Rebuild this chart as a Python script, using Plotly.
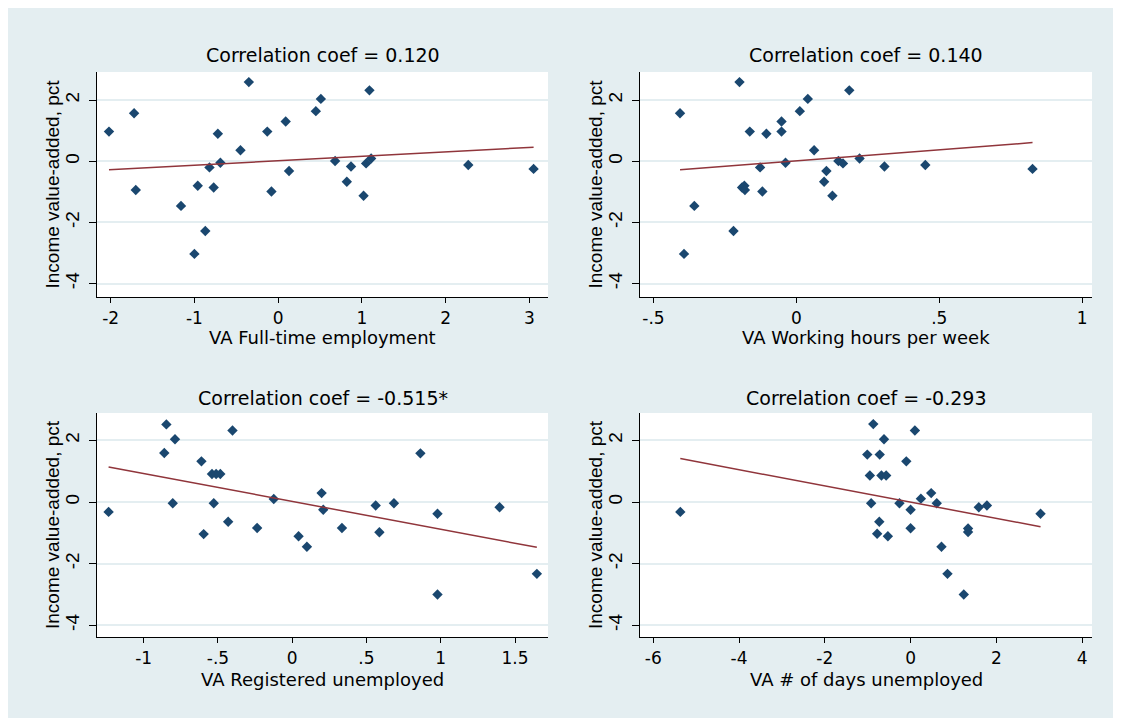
import plotly.graph_objects as go

# ---------------- data ----------------
titles = ["Correlation coef = 0.120", "Correlation coef = 0.140",
          "Correlation coef = -0.515*", "Correlation coef = -0.293"]
x_titles = ["VA Full-time employment", "VA Working hours per week",
            "VA Registered unemployed", "VA # of days unemployed"]
y_title = "Income value-added, pct"

fte_x = [-2.02, -1.72, -1.70, -1.16, -1.00, -0.96, -0.87, -0.82, -0.77, -0.72, -0.69, -0.45, -0.35, -0.13,
         -0.08, 0.09, 0.13, 0.45, 0.51, 0.68, 0.82, 0.87, 1.02, 1.05, 1.09, 1.11, 2.27, 3.05]
fte_y = [0.97, 1.57, -0.94, -1.46, -3.03, -0.80, -2.28, -0.20, -0.86, 0.90, -0.05, 0.36, 2.59, 0.97,
         -0.99, 1.30, -0.32, 1.64, 2.04, 0.01, -0.67, -0.17, -1.13, -0.07, 2.32, 0.09, -0.12, -0.25]

hrs_x = [-0.407, -0.393, -0.357, -0.220, -0.199, -0.190, -0.182, -0.180, -0.163, -0.127, -0.119, -0.105,
         -0.052, -0.052, -0.038, 0.012, 0.040, 0.062, 0.097, 0.105, 0.126, 0.147, 0.163, 0.185, 0.221,
         0.308, 0.451, 0.826]
hrs_y = [1.57, -3.03, -1.46, -2.28, 2.59, -0.86, -0.80, -0.94, 0.97, -0.20, -0.99, 0.90,
         1.30, 0.97, -0.05, 1.64, 2.04, 0.36, -0.67, -0.32, -1.13, 0.01, -0.07, 2.32, 0.09,
         -0.17, -0.12, -0.25]

reg_x = [-1.236, -0.861, -0.847, -0.804, -0.789, -0.611, -0.596, -0.540, -0.512, -0.484, -0.528, -0.431,
         -0.402, -0.236, -0.124, 0.043, 0.099, 0.198, 0.209, 0.335, 0.562, 0.587, 0.685, 0.863, 0.978,
         0.978, 1.396, 1.647]
reg_y = [-0.32, 1.59, 2.52, -0.04, 2.04, 1.32, -1.04, 0.91, 0.91, 0.91, -0.04, -0.64,
         2.32, -0.84, 0.10, -1.11, -1.45, 0.29, -0.25, -0.84, -0.11, -0.98, -0.04, 1.58, -0.38,
         -3.00, -0.17, -2.33]

days_x = [-5.37, -1.01, -0.95, -0.92, -0.87, -0.78, -0.73, -0.72, -0.68, -0.57, -0.62, -0.53, -0.26,
          -0.10, 0.00, 0.00, 0.10, 0.24, 0.48, 0.61, 0.72, 0.86, 1.24, 1.34, 1.34, 1.59, 1.78, 3.03]
days_y = [-0.32, 1.54, 0.86, -0.04, 2.53, -1.03, -0.64, 1.54, 0.86, 0.86, 2.04, -1.11, -0.04,
          1.32, -0.25, -0.85, 2.32, 0.11, 0.29, -0.04, -1.45, -2.33, -3.00, -0.86, -0.97, -0.17, -0.11, -0.38]

# fitted lines (endpoints)
fit_x = [[-2.02, 3.05], [-0.407, 0.826], [-1.236, 1.647], [-5.37, 3.03]]
fit_y = [[-0.28, 0.46], [-0.28, 0.61], [1.14, -1.47], [1.41, -0.80]]

x_tickvals = [[-2, -1, 0, 1, 2, 3], [-0.5, 0, 0.5, 1], [-1, -0.5, 0, 0.5, 1, 1.5], [-6, -4, -2, 0, 2, 4]]
x_ticktext = [["-2", "-1", "0", "1", "2", "3"], ["-.5", "0", ".5", "1"],
              ["-1", "-.5", "0", ".5", "1", "1.5"], ["-6", "-4", "-2", "0", "2", "4"]]
y_tickvals = [-4, -2, 0, 2]
y_ticktext = ["-4", "-2", "0", "2"]

xs = [fte_x, hrs_x, reg_x, days_x]
ys = [fte_y, hrs_y, reg_y, days_y]

# ---------------- layout constants ----------------
OFF = 8                     # page body margin
W, H = 1121 - OFF, 718 - OFF
x_ranges = [[-2.163, 3.222], [-0.547, 1.034], [-1.314, 1.722], [-6.31, 4.23]]
y_ranges = [[-4.44, 2.92], [-4.44, 2.92], [-4.38, 2.89], [-4.38, 2.89]]
# plot-area pixel boxes in screen pixels: (left, right, top, bottom)
boxes = [(97, 548, 72, 297), (640, 1092, 72, 297), (97, 548, 413, 637), (640, 1092, 413, 637)]
title_y = [55, 55, 398, 398]
xtitle_y = [337, 337, 679, 679]


def px(v):
    return (v - OFF) / W


def py(v):
    return 1 - (v - OFF) / H


BG = "#e4eef1"
NAVY = "#1a476f"
MAROON = "#90353b"
HFONT = "DejaVu Sans"
VFONT = "Liberation Sans"

fig = go.Figure()
layout = dict(
    width=W, height=H,
    margin=dict(l=0, r=0, t=0, b=0),
    paper_bgcolor=BG, plot_bgcolor="white",
    showlegend=False,
    annotations=[],
)

for i in range(4):
    l, r, t, b = boxes[i]
    sfx = "" if i == 0 else str(i + 1)
    xa, ya = "x" + sfx, "y" + sfx
    fig.add_trace(go.Scatter(
        x=xs[i], y=ys[i], mode="markers", xaxis=xa, yaxis=ya,
        marker=dict(symbol="diamond", size=8, color=NAVY, line=dict(width=0)),
    ))
    fig.add_trace(go.Scatter(
        x=fit_x[i], y=fit_y[i], mode="lines", xaxis=xa, yaxis=ya,
        line=dict(color=MAROON, width=1.5),
    ))
    layout["xaxis" + sfx] = dict(
        domain=[px(l), px(r)], range=x_ranges[i], anchor=ya,
        showline=True, linecolor="black", linewidth=1.3,
        ticks="outside", ticklen=5, tickwidth=1.3, tickcolor="black",
        tickvals=x_tickvals[i], ticktext=x_ticktext[i],
        tickfont=dict(family=HFONT, size=17, color="black"),
        ticklabelstandoff=0,
        showgrid=False, zeroline=False, fixedrange=True,
    )
    layout["yaxis" + sfx] = dict(
        domain=[py(b), py(t)], range=y_ranges[i], anchor=xa,
        showline=True, linecolor="black", linewidth=1.3,
        ticks="outside", ticklen=7, tickwidth=1.3, tickcolor="black",
        tickvals=y_tickvals, ticktext=y_ticktext, tickangle=-90,
        tickfont=dict(family=VFONT, size=19, color="black"),
        ticklabelstandoff=2,
        showgrid=True, gridcolor=BG, gridwidth=1.5, zeroline=False, fixedrange=True,
    )
    cx = (l + r) / 2
    layout["annotations"].append(dict(
        text=titles[i], x=px(cx), y=py(title_y[i]), xref="paper", yref="paper",
        showarrow=False, xanchor="center", yanchor="middle",
        font=dict(family=HFONT, size=19, color="black"),
    ))
    layout["annotations"].append(dict(
        text=x_titles[i], x=px(cx), y=py(xtitle_y[i]), xref="paper", yref="paper",
        showarrow=False, xanchor="center", yanchor="middle",
        font=dict(family=HFONT, size=18, color="black"),
    ))
    layout["annotations"].append(dict(
        text=y_title, x=px(l - 45), y=py((t + b) / 2), xref="paper", yref="paper",
        showarrow=False, xanchor="center", yanchor="middle", textangle=-90,
        font=dict(family=VFONT, size=19, color="black"),
    ))

fig.update_layout(**layout)
fig.write_html("out.html", config={"displayModeBar": False})
